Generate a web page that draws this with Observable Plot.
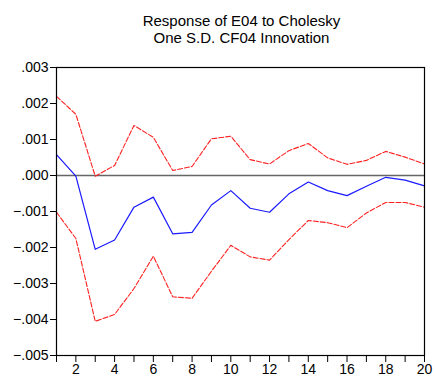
<!DOCTYPE html>
<html>
<head>
<meta charset="utf-8">
<script src="https://cdn.jsdelivr.net/npm/d3@7"></script>
<script src="https://cdn.jsdelivr.net/npm/@observablehq/plot@0.6"></script>
<style>
  html, body { margin: 0; padding: 0; background: #fff; }
  #wrap { position: relative; width: 435px; height: 381px; font-family: "Liberation Sans", Arial, sans-serif; }
  #title { position: absolute; left: 0; width: 483px; top: 12px; text-align: center; font-size: 15px; line-height: 17px; color: #000; }
</style>
</head>
<body>
<div id="wrap">
  <div id="title">Response of E04 to Cholesky<br>One S.D. CF04 Innovation</div>
</div>
<script>
const periods = [1,2,3,4,5,6,7,8,9,10,11,12,13,14,15,16,17,18,19,20];
const response = [0.00058,-0.00002,-0.00205,-0.00179,-0.00088,-0.0006,-0.00162,-0.00158,-0.00082,-0.00042,-0.00091,-0.00102,-0.00051,-0.00018,-0.00042,-0.00056,-0.0003,-0.00005,-0.00013,-0.00029];
const upper = [0.0022,0.0017,-0.00002,0.00028,0.00139,0.00106,0.00014,0.00025,0.00102,0.00109,0.00044,0.00032,0.00069,0.00089,0.00049,0.00031,0.00042,0.00067,0.00051,0.00032];
const lower = [-0.00102,-0.00175,-0.00405,-0.00386,-0.00314,-0.00224,-0.00337,-0.00341,-0.00266,-0.00194,-0.00226,-0.00235,-0.00178,-0.00125,-0.00131,-0.00145,-0.00104,-0.00075,-0.00075,-0.00088];
const yTicks = [0.003,0.002,0.001,0,-0.001,-0.002,-0.003,-0.004,-0.005];

const rows = periods.map((p, i) => ({p, r: response[i], u: upper[i], l: lower[i]}));
const fmtY = d => d3.format(".3f")(d).replace("0.", ".");

const chart = Plot.plot({
  width: 435,
  height: 381,
  marginLeft: 56,
  marginRight: 11,
  marginTop: 67,
  marginBottom: 26,
  style: {fontFamily: '"Liberation Sans", Arial, sans-serif', fontSize: "14px", color: "#000", background: "transparent"},
  x: {domain: [1, 20]},
  y: {domain: [-0.005, 0.003]},
  marks: [
    Plot.ruleY([0], {stroke: "#666", strokeWidth: 1.5}),
    Plot.line(rows, {x: "p", y: "u", stroke: "#ff2020", strokeWidth: 1.1, strokeDasharray: "5,2"}),
    Plot.line(rows, {x: "p", y: "l", stroke: "#ff2020", strokeWidth: 1.1, strokeDasharray: "5,2"}),
    Plot.line(rows, {x: "p", y: "r", stroke: "#1a1aff", strokeWidth: 1.2}),
    Plot.frame({stroke: "#000", strokeWidth: 1.2}),
    Plot.axisY({ticks: yTicks, tickFormat: fmtY, tickSize: 6, tickPadding: 2, label: null, stroke: "#000"}),
    Plot.axisX({ticks: periods, tickFormat: d => d % 2 === 0 ? String(d) : "", tickSize: 7, tickPadding: 2, label: null, stroke: "#000"})
  ]
});
document.getElementById("wrap").appendChild(chart);
</script>
</body>
</html>
